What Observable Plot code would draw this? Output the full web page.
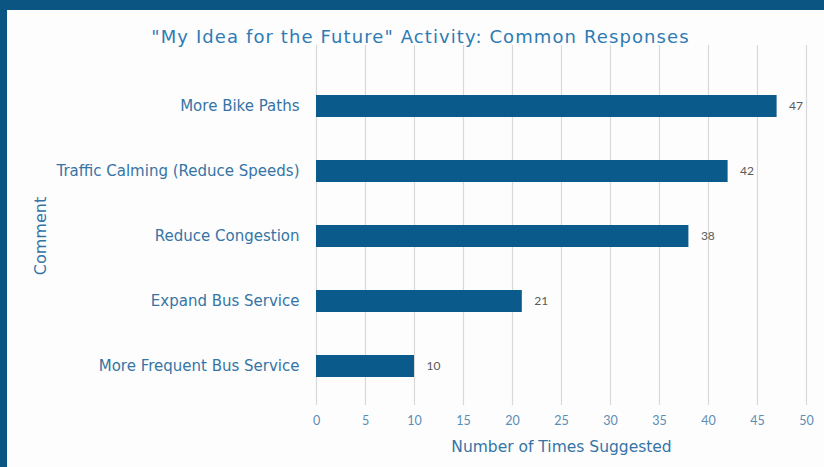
<!DOCTYPE html>
<html>
<head>
<meta charset="utf-8">
<script src="https://cdn.jsdelivr.net/npm/d3@7"></script>
<script src="https://cdn.jsdelivr.net/npm/@observablehq/plot@0.6"></script>
<style>
  html, body { margin: 0; padding: 0; }
  body { width: 824px; height: 467px; background: #0b5583; overflow: hidden; }
  #panel { position: absolute; left: 7px; top: 10px; width: 817px; height: 457px; background: #fdfdfd; }
  #title { position: absolute; left: 0; top: 12px; width: 817px; height: 30px; line-height: 30px; text-align: center; font-family: "DejaVu Sans", sans-serif; font-size: 18px; letter-spacing: 1.1px; color: #2f7bb3; padding-left: 10px; box-sizing: border-box; white-space: nowrap; }
  #chart { position: absolute; left: 0; top: 30px; }
  svg { display: block; }
</style>
</head>
<body>
<div id="panel">
  <div id="title">"My Idea for the Future" Activity: Common Responses</div>
  <div id="chart"></div>
</div>
<script>
const comments = ["More Bike Paths", "Traffic Calming (Reduce Speeds)", "Reduce Congestion", "Expand Bus Service", "More Frequent Bus Service"];
const counts = [47, 42, 38, 21, 10];
const xTicks = [0, 5, 10, 15, 20, 25, 30, 35, 40, 45, 50];
const xLabel = "Number of Times Suggested";
const yLabel = "Comment";

const data = comments.map((c, i) => ({comment: c, count: counts[i]}));

const chart = Plot.plot({
  width: 817,
  height: 427,
  marginLeft: 309,
  marginRight: 18,
  marginTop: 26,
  marginBottom: 62,
  style: {fontFamily: "DejaVu Sans, sans-serif", background: "transparent"},
  x: {domain: [0, 50], ticks: xTicks},
  y: {domain: comments, paddingInner: 0.665, paddingOuter: 0.41},
  marks: [
    Plot.gridX(xTicks, {stroke: "#d9d9d9", strokeOpacity: 1, strokeWidth: 1.2, insetTop: -21}),
    Plot.axisX(xTicks, {tickSize: 0, tickPadding: 11, fill: "#5b8db5", fontSize: 12.5, fontFamily: "Lato, sans-serif", label: null}),
    Plot.axisY({tickSize: 0, tickPadding: 17, fill: "#3574a5", fontSize: 15, label: null}),
    Plot.text([xLabel], {frameAnchor: "bottom", dy: 42, lineAnchor: "middle", text: d => d, fill: "#3574a5", fontSize: 15.5}),
    Plot.text([yLabel], {frameAnchor: "left", dx: -276, rotate: -90, textAnchor: "middle", lineAnchor: "middle", text: d => d, fill: "#3574a5", fontSize: 16, style: "letter-spacing:1px"}),
    Plot.barX(data, {x: "count", y: "comment", fill: "#0a5a8c"}),
    Plot.text(data, {x: "count", y: "comment", text: d => String(d.count), dx: 12, textAnchor: "start", fill: "#5a5a5a", fontSize: 12, fontFamily: "Lato, sans-serif"})
  ]
});
document.getElementById("chart").appendChild(chart);
</script>
</body>
</html>
